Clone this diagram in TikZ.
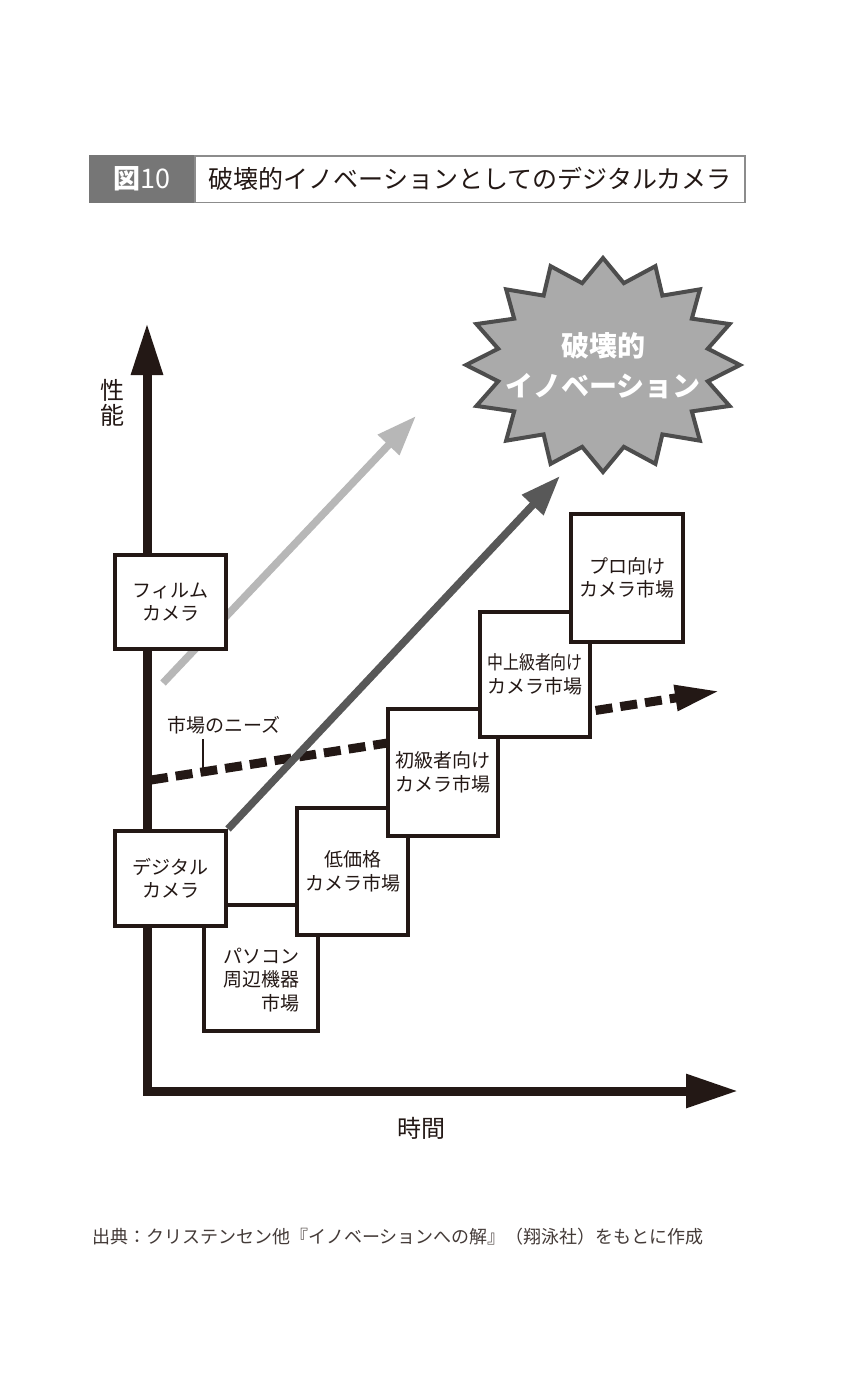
\documentclass[tikz,border=0pt]{standalone}
\usepackage{fontspec}
\setmainfont{Noto Sans CJK JP}
\usepackage{xcolor}
\usepackage{graphicx}
\usepackage{tikz}
\usetikzlibrary{arrows.meta,positioning,calc}
\definecolor{inkblack}{RGB}{35,24,21}
\definecolor{titlegray}{RGB}{118,118,118}
\definecolor{framegray}{RGB}{140,140,140}
\definecolor{burstgray}{RGB}{170,170,170}
\definecolor{burstedge}{RGB}{77,77,77}
\definecolor{oldtrend}{RGB}{183,183,183}
\definecolor{newtrend}{RGB}{88,88,88}
\newcommand{\boxfont}{\fontsize{19}{23.5}\selectfont}

\begin{document}
\begin{tikzpicture}[x=1pt, y=-1pt, >=Stealth,
  mktbox/.style={rectangle, draw=inkblack, line width=4pt, fill=white, minimum width=111pt, inner sep=0pt, align=center, font=\boxfont, text=inkblack},
  axisline/.style={line width=9pt, draw=inkblack, line join=miter, {Triangle[length=52pt,width=30pt]}-{Triangle[length=52pt,width=32pt]}},
  trend/.style={line width=7.5pt, -{Triangle[length=40pt,width=28pt]}},
  needs/.style={line width=9pt, draw=inkblack, dash pattern=on 17pt off 8pt, -{Triangle[length=45pt,width=24pt]}}]
\useasboundingbox[fill=white] (0,0) rectangle (855,1400);
% Title bar
\node[rectangle, fill=titlegray, minimum width=106pt, minimum height=48pt, inner sep=0pt, text=white, font=\fontsize{27}{27}\selectfont] (figno) at (142,179) {{\bfseries 図}10};
\node[rectangle, draw=framegray, line width=1.5pt, minimum width=550pt, minimum height=46.5pt, inner sep=0pt, text=inkblack, font=\fontsize{25}{25}\selectfont] (ttl) at (470,179) {破壊的イノベーションとしてのデジタルカメラ};
% Axes
\coordinate (origin) at (147,1091);
\coordinate (ytip) at (147,323);
\coordinate (xtip) at (738,1091);
\draw[axisline] (ytip)--(origin)--(xtip);
\node[align=center, text=inkblack, font=\fontsize{24}{25}\selectfont] (perf) at (112,403) {性\\能};
\node[text=inkblack, font=\fontsize{24}{24}\selectfont] (time) at (421,1128) {時間};
% Market needs (behind the boxes)
\coordinate (needtail) at (151,780);
\coordinate (needtip) at (720,691);
\draw[needs] (needtail)--(needtip);
\node[text=inkblack, font=\fontsize{19}{19}\selectfont] (needlbl) at (224,725) {市場のニーズ};
\coordinate (leadtop) at (203,739);
\coordinate (leadbot) at (203,772);
\draw[inkblack, line width=1.5pt] (leadtop)--(leadbot);
% Film camera trend
\coordinate (filmtail) at (163,683);
\coordinate (filmtip) at (416,416);
\draw[trend, oldtrend] (filmtail)--(filmtip);
% Burst
\draw[fill=burstgray, draw=burstedge, line width=4pt, line join=miter] (603,258)
  \foreach \k in {1,...,31}{ --({603+137*(0.89+0.11*cos(\k*180))*cos(90+\k*11.25)},{365-107*(0.89+0.11*cos(\k*180))*sin(90+\k*11.25)}) } --cycle;
\node[align=center, text=white, font=\fontsize{28}{40}\selectfont\bfseries] (burstlbl) at (603,366) {破壊的\\イノベーション};
% Boxes, lower ones first
\node[mktbox, minimum height=94pt] (film) at (170.5,602) {フィルム\\カメラ};
\node[mktbox, minimum width=114pt, minimum height=126pt] (pc) at (261,968) {};
\node[align=right, font=\boxfont, text=inkblack, inner sep=0pt] (pctext) at (261,980) {パソコン\\周辺機器\\市場};
\node[mktbox, minimum height=95pt] (digital) at (170.5,878.5) {デジタル\\カメラ};
\node[mktbox, minimum height=127pt] (lowprice) at (352.5,871.5) {低価格\\カメラ市場};
\node[mktbox, minimum width=110pt, minimum height=127pt] (entry) at (443,772.5) {初級者向け\\カメラ市場};
\node[mktbox, minimum width=110pt, minimum height=125pt] (midhigh) at (535,674.5) {\scalebox{0.84}[1]{中上級者向け}\\カメラ市場};
\node[mktbox, minimum width=112pt, minimum height=128pt] (pro) at (627,578) {プロ向け\\カメラ市場};
% Digital camera trend
\coordinate (digitip) at (560,476);
\draw[trend, newtrend] (digital.north east)--(digitip);
% Source
\node[anchor=west, text=inkblack!85, font=\fontsize{18}{18}\selectfont, inner sep=0pt] (src) at (92,1237) {出典：クリステンセン他『イノベーションへの解』（翔泳社）をもとに作成};
\end{tikzpicture}
\end{document}
